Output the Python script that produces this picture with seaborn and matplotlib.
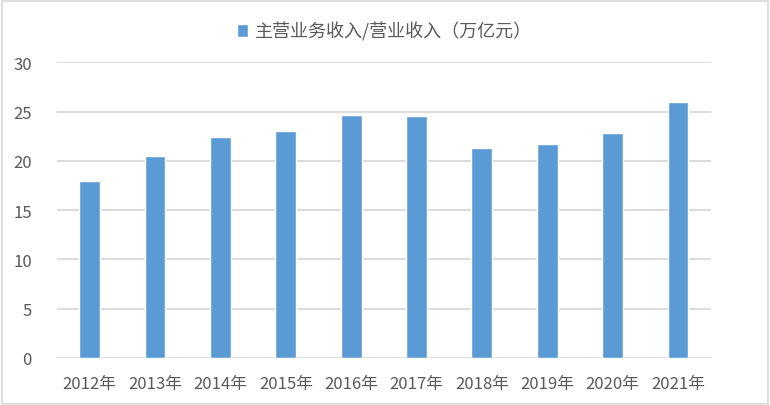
import pandas as pd
import matplotlib
matplotlib.use('Agg')
import matplotlib.pyplot as plt
import seaborn as sns

years = ['2012年', '2013年', '2014年', '2015年', '2016年', '2017年', '2018年', '2019年', '2020年', '2021年']
ratio = [18.0, 20.5, 22.4, 23.0, 24.65, 24.55, 21.3, 21.7, 22.8, 26.0]
series_name = '主营业务收入/营业收入（万亿元）'

df = pd.DataFrame({'year': years, 'value': ratio, 'series': series_name})

sns.set_style('white')
plt.rcParams['font.family'] = ['Noto Sans CJK SC', 'DejaVu Sans']

grey_txt = '#595959'
fig = plt.figure(figsize=(7.7, 4.06), dpi=100)
ax = fig.add_axes([0.074, 0.116, 0.849, 0.728])

sns.barplot(data=df, x='year', y='value', hue='series', palette=['#5B9BD5'],
            width=0.32, saturation=1, ax=ax, legend=True)

ax.set_ylim(0, 30)
ax.set_xlim(-0.5, 9.5)
ax.set_yticks(range(0, 31, 5))
ax.yaxis.grid(True, color='#D9D9D9', linewidth=1.3)
ax.set_axisbelow(True)
for s in ax.spines.values():
    s.set_visible(False)
ax.tick_params(axis='both', length=0, labelsize=12, colors=grey_txt)
ax.tick_params(axis='x', pad=12)
ax.tick_params(axis='y', pad=18)
ax.set_xlabel('')
ax.set_ylabel('')

leg = ax.legend(loc='center', bbox_to_anchor=(0.5, 0.921), bbox_transform=fig.transFigure,
                frameon=False, fontsize=13, handlelength=0.6, handleheight=0.7,
                handletextpad=0.4)
for t in leg.get_texts():
    t.set_color(grey_txt)

# outer border
fig.patches.append(plt.Rectangle((0.002, 0.003), 0.995, 0.993, transform=fig.transFigure,
                                 fill=False, edgecolor='#D9D9D9', linewidth=1.2))

fig.savefig('out.png', dpi=100)
